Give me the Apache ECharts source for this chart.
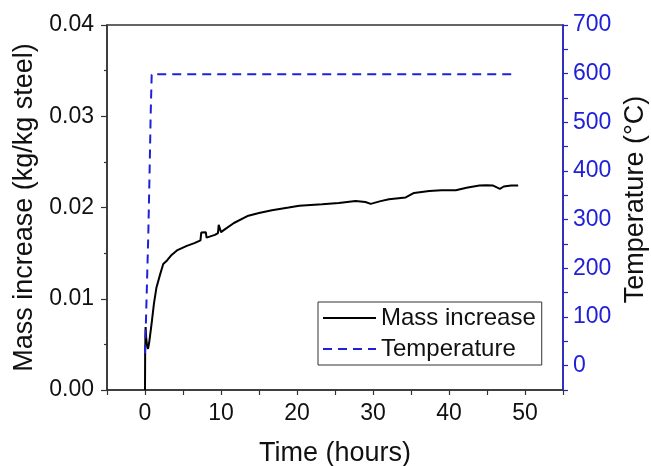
<!DOCTYPE html>
<html>
<head>
<meta charset="utf-8">
<script src="https://cdn.jsdelivr.net/npm/echarts@6/dist/echarts.min.js"></script>
<style>
  html, body { margin: 0; padding: 0; background: #fff; }
  #chart { width: 651px; height: 466px; }
</style>
</head>
<body>
<div id="chart"></div>
<script>
// mass increase curve (hours, kg/kg steel)
const massTime = [0, 0.02, 0.08, 0.15, 0.25, 0.4, 0.55, 0.75, 0.9, 1.18, 1.5, 2.0, 2.4, 2.9, 3.5, 4.2, 5.5, 6.5, 7.3,
  7.4, 8.0, 8.1, 9.2, 9.6, 9.7, 9.9, 10.0, 10.5, 11.7, 13.6, 15.0, 16.7, 18.9, 20.3, 23.3, 25.5, 27.7, 29.0, 29.7,
  31.0, 32.1, 34.3, 35.4, 37.4, 39.0, 40.9, 42.3, 44.0, 44.9, 45.8, 46.3, 46.7, 47.2, 48.2, 49.1];
const massValue = [0, 0.0040, 0.0069, 0.0058, 0.0050, 0.0045, 0.0052, 0.0065, 0.0075, 0.0095, 0.0112, 0.0127, 0.0138,
  0.0142, 0.0148, 0.0153, 0.0158, 0.0161, 0.0164, 0.01725, 0.0173, 0.0167, 0.0170, 0.0172, 0.0181, 0.0180, 0.0173,
  0.0176, 0.0183, 0.0191, 0.0194, 0.0197, 0.0200, 0.0202, 0.02035, 0.0205, 0.0207, 0.0206, 0.0204, 0.0207, 0.0209,
  0.0211, 0.0216, 0.0218, 0.0219, 0.0219, 0.02216, 0.0224, 0.02245, 0.0224, 0.0222, 0.02205, 0.0223, 0.0224, 0.02242];

// furnace temperature (hours, °C)
const tempTime = [0, 0.13, 0.44, 0.66, 0.74, 0.88, 1.0, 1.3, 1.6, 48.4];
const tempValue = [25, 94, 273, 443, 511, 598, 602, 601, 599, 599];

const seriesNames = ['Mass increase', 'Temperature'];
const blue = '#2020d8';
const font = 'Liberation Sans, Arial, sans-serif';

const chart = echarts.init(document.getElementById('chart'));

const option = {
  backgroundColor: '#fff',
  animation: false,
  grid: {
    left: 107, right: 88, top: 25, bottom: 76,
    outerBoundsMode: 'none',
    show: true, borderColor: '#333', borderWidth: 1.5
  },
  legend: {
    data: seriesNames,
    orient: 'vertical',
    left: 318, top: 302,
    itemWidth: 53, itemHeight: 14, itemGap: 7,
    padding: [4, 6, 4, 4],
    borderColor: '#333', borderWidth: 1,
    backgroundColor: '#fff',
    selectedMode: false,
    itemStyle: { opacity: 0 },
    textStyle: { fontSize: 24, color: '#111', fontFamily: font }
  },
  xAxis: {
    type: 'value',
    min: -5, max: 55, interval: 5,
    name: 'Time (hours)',
    nameLocation: 'middle', nameGap: 50,
    nameTextStyle: { fontSize: 27, color: '#111', fontFamily: font },
    axisLine: { onZero: false, lineStyle: { color: '#333', width: 1.5 } },
    axisTick: { length: 5, lineStyle: { color: '#333', width: 1.2 } },
    axisLabel: {
      fontSize: 23, color: '#111', fontFamily: font, margin: 12,
      formatter: v => (v % 10 === 0 ? String(v) : '')
    },
    splitLine: { show: false }
  },
  yAxis: [
    {
      type: 'value',
      min: 0, max: 0.04, interval: 0.01,
      name: 'Mass increase (kg/kg steel)',
      nameLocation: 'middle', nameGap: 66,
      nameTextStyle: { fontSize: 27, color: '#111', fontFamily: font },
      axisLine: { show: true, onZero: false, lineStyle: { color: '#333', width: 1.5 } },
      axisTick: { length: 6, lineStyle: { color: '#333', width: 1.2 } },
      minorTick: { show: true, splitNumber: 2, length: 3, lineStyle: { color: '#333', width: 1.2 } },
      axisLabel: {
        fontSize: 23, color: '#111', fontFamily: font, margin: 13,
        formatter: v => v.toFixed(2)
      },
      splitLine: { show: false }
    },
    {
      type: 'value',
      position: 'right',
      min: -50, max: 700, interval: 50,
      name: 'Temperature (°C)',
      nameLocation: 'middle', nameGap: 58,
      nameTextStyle: { fontSize: 27, color: '#111', fontFamily: font, padding: [0, 0, 0, 16] },
      axisLine: { show: true, onZero: false, lineStyle: { color: blue, width: 1.5 } },
      axisTick: { length: 5, lineStyle: { color: blue, width: 1.2 } },
      axisLabel: {
        fontSize: 23, color: blue, fontFamily: font, margin: 10,
        formatter: v => (v >= 0 && v % 100 === 0 ? String(v) : '')
      },
      splitLine: { show: false }
    }
  ],
  series: [
    {
      name: seriesNames[0],
      type: 'line',
      yAxisIndex: 0,
      symbol: 'none',
      lineStyle: { color: '#000', width: 2 },
      itemStyle: { color: '#000' },
      data: massTime.map((t, i) => [t, massValue[i]])
    },
    {
      name: seriesNames[1],
      type: 'line',
      yAxisIndex: 1,
      symbol: 'none',
      lineStyle: { color: blue, width: 2, type: [9, 6] },
      itemStyle: { color: blue },
      data: tempTime.map((t, i) => [t, tempValue[i]])
    }
  ]
};

chart.setOption(option);
</script>
</body>
</html>
